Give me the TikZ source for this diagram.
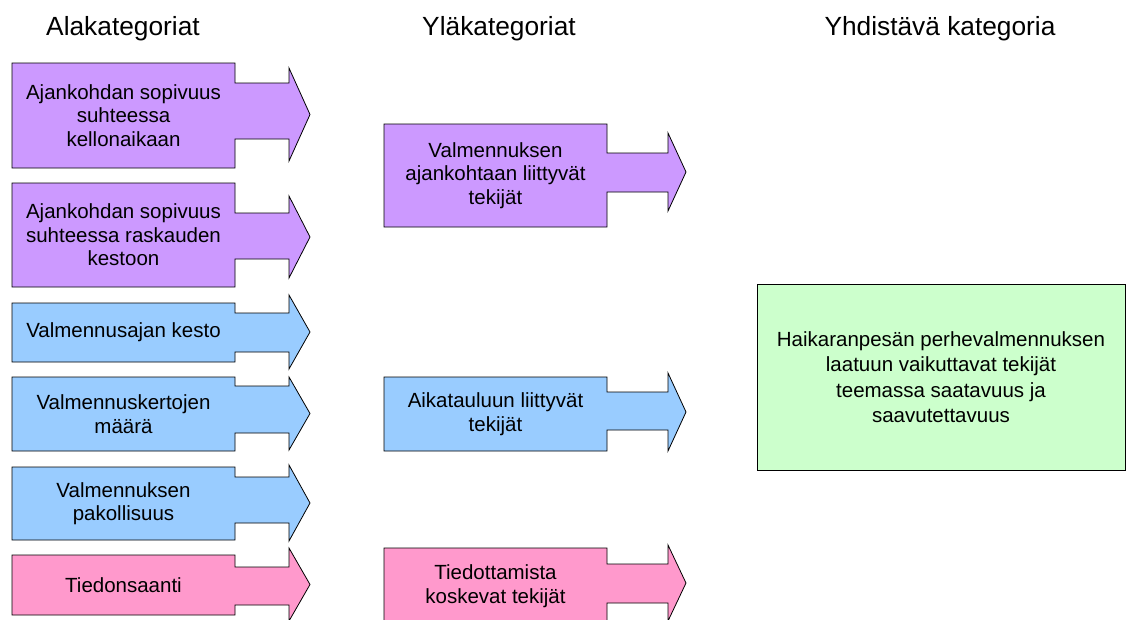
\documentclass[tikz,border=0pt]{standalone}
\usepackage{fontspec}
\setmainfont{Liberation Sans}
\definecolor{purp}{HTML}{CC99FF}
\definecolor{blu}{HTML}{99CCFF}
\definecolor{pnk}{HTML}{FF99CC}
\definecolor{grn}{HTML}{CCFFCC}
\tikzset{
  arrowshape/.style={draw=black, line width=0.8pt, line join=miter},
  boxtext/.style={align=center, inner sep=0pt, font=\fontsize{20.5}{23.5}\selectfont},
  headtext/.style={inner sep=0pt, font=\fontsize{26.3}{30}\selectfont},
}
% #1 name, #2 colour, #3 top, #4 bottom, #5 shaft top, #6 shaft bottom, #7 head top, #8 head bottom, #9 text
\newcommand\catarrow[9]{%
  \fill[#2] (\xa,#3) -- (\xb,#3) -- (\xb,#5) -- (\xh,#5) -- (\xh,#7) -- (\xt,{(#7+#8)/2}) -- (\xh,#8) -- (\xh,#6) -- (\xb,#6) -- (\xb,#4) -- (\xa,#4) -- cycle;
  \draw[arrowshape] (\xa,#3) -- (\xb,#3) -- (\xb,#5) -- (\xh,#5) -- (\xh,#7) -- (\xt,{(#7+#8)/2}) -- (\xh,#8) -- (\xh,#6) -- (\xb,#6) -- (\xb,#4) -- (\xa,#4) -- cycle;
  \node[boxtext] (#1) at ({(\xa+\xb)/2},{(#3+#4)/2}) {#9};
}
\begin{document}
\begin{tikzpicture}[x=1pt,y=-1pt]
\clip (0,0) rectangle (1128,619);
\fill[white] (0,0) rectangle (1128,619);

\node[headtext, anchor=base] (h1) at (123,35) {Alakategoriat};
\node[headtext, anchor=base] (h2) at (499,35) {Yläkategoriat};
\node[headtext, anchor=base] (h3) at (940,35) {Yhdistävä kategoria};

\def\xa{12}\def\xb{235}\def\xh{289}\def\xt{310}
\catarrow{a1}{purp}{63}{168}{83}{139}{68}{161}{Ajankohdan sopivuus\\suhteessa\\kellonaikaan}
\catarrow{a2}{purp}{183}{287}{213}{259}{196}{278}{Ajankohdan sopivuus\\suhteessa raskauden\\kestoon}
\catarrow{a3}{blu}{303}{362}{313}{352}{295}{369}{Valmennusajan kesto}
\catarrow{a4}{blu}{377}{451}{386}{433}{377}{450}{Valmennuskertojen\\määrä}
\catarrow{a5}{blu}{467}{540}{477}{523}{465}{541}{Valmennuksen\\pakollisuus}
\catarrow{a6}{pnk}{555}{615}{567}{605}{548}{621}{Tiedonsaanti}

\def\xa{384}\def\xb{607}\def\xh{668}\def\xt{686}
\catarrow{m1}{purp}{124}{227}{153}{192}{133}{211}{Valmennuksen\\ajankohtaan liittyvät\\tekijät}
\catarrow{m2}{blu}{377}{451}{392}{430}{373}{451}{Aikatauluun liittyvät\\tekijät}
\catarrow{m3}{pnk}{548}{624}{564}{603}{545}{621}{Tiedottamista\\koskevat tekijät}

\draw[arrowshape, fill=grn] (757,284) rectangle (1125,470);
\node[boxtext, font=\fontsize{20.5}{25.5}\selectfont] (g) at (941,377) {Haikaranpesän perhevalmennuksen\\laatuun vaikuttavat tekijät\\teemassa saatavuus ja\\saavutettavuus};
\end{tikzpicture}
\end{document}
